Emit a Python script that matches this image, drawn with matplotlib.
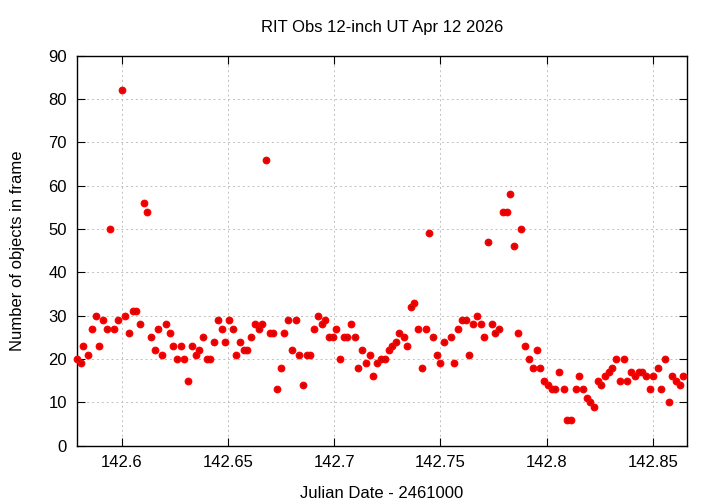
import matplotlib
matplotlib.use('Agg')
import matplotlib.pyplot as plt

plt.rcParams['font.family'] = ['Liberation Sans', 'DejaVu Sans']

# Julian date minus 2461000, and object counts per frame
jd = [
    142.5787, 142.5806, 142.5818, 142.5841, 142.5857, 142.5876, 142.5893, 142.5911,
    142.5928, 142.5945, 142.5962, 142.5981, 142.5999, 142.6016, 142.6033, 142.6050,
    142.6067, 142.6085, 142.6102, 142.6118, 142.6137, 142.6155, 142.6171, 142.6190,
    142.6207, 142.6225, 142.6242, 142.6259, 142.6276, 142.6293, 142.6312, 142.6330,
    142.6347, 142.6364, 142.6381, 142.6399, 142.6416, 142.6433, 142.6451, 142.6469,
    142.6486, 142.6504, 142.6521, 142.6538, 142.6556, 142.6573, 142.6590, 142.6607,
    142.6625, 142.6644, 142.6661, 142.6678, 142.6695, 142.6712, 142.6730, 142.6747,
    142.6764, 142.6782, 142.6799, 142.6818, 142.6835, 142.6852, 142.6870, 142.6887,
    142.6905, 142.6923, 142.6940, 142.6957, 142.6975, 142.6992, 142.7009, 142.7026,
    142.7044, 142.7061, 142.7080, 142.7097, 142.7114, 142.7131, 142.7149, 142.7166,
    142.7183, 142.7202, 142.7219, 142.7237, 142.7256, 142.7273, 142.7290, 142.7307,
    142.7326, 142.7343, 142.7359, 142.7376, 142.7395, 142.7412, 142.7430, 142.7445,
    142.7464, 142.7482, 142.7499, 142.7516, 142.7549, 142.7566, 142.7583, 142.7601,
    142.7618, 142.7635, 142.7654, 142.7671, 142.7689, 142.7706, 142.7723, 142.7742,
    142.7759, 142.7776, 142.7794, 142.7811, 142.7828, 142.7846, 142.7863, 142.7880,
    142.7897, 142.7915, 142.7936, 142.7954, 142.7971, 142.7988, 142.8006, 142.8023,
    142.8040, 142.8057, 142.8081, 142.8098, 142.8115, 142.8136, 142.8153, 142.8170,
    142.8188, 142.8205, 142.8222, 142.8240, 142.8258, 142.8275, 142.8293, 142.8310,
    142.8327, 142.8345, 142.8362, 142.8379, 142.8398, 142.8415, 142.8433, 142.8450,
    142.8467, 142.8486, 142.8503, 142.8522, 142.8539, 142.8557, 142.8574, 142.8591,
    142.8608, 142.8626, 142.8643,
]
counts = [
    20, 19, 23, 21, 27, 30, 23, 29,
    27, 50, 27, 29, 82, 30, 26, 31,
    31, 28, 56, 54, 25, 22, 27, 21,
    28, 26, 23, 20, 23, 20, 15, 23,
    21, 22, 25, 20, 20, 24, 29, 27,
    24, 29, 27, 21, 24, 22, 22, 25,
    28, 27, 28, 66, 26, 26, 13, 18,
    26, 29, 22, 29, 21, 14, 21, 21,
    27, 30, 28, 29, 25, 25, 27, 20,
    25, 25, 28, 25, 18, 22, 19, 21,
    16, 19, 20, 20, 22, 23, 24, 26,
    25, 23, 32, 33, 27, 18, 27, 49,
    25, 21, 19, 24, 25, 19, 27, 29,
    29, 21, 28, 30, 28, 25, 47, 28,
    26, 27, 54, 54, 58, 46, 26, 50,
    23, 20, 18, 22, 18, 15, 14, 13,
    13, 17, 13, 6, 6, 13, 16, 13,
    11, 10, 9, 15, 14, 16, 17, 18,
    20, 15, 20, 15, 17, 16, 17, 17,
    16, 13, 16, 18, 13, 20, 10, 16,
    15, 14, 16,
]

x_ticks = [142.6, 142.65, 142.7, 142.75, 142.8, 142.85]
x_tick_labels = ['142.6', '142.65', '142.7', '142.75', '142.8', '142.85']
y_ticks = list(range(0, 91, 10))

fig = plt.figure(figsize=(7.2, 5.04), dpi=100)
ax = fig.add_axes([0.1065, 0.1159, 0.848, 0.7738])

ax.plot(jd, counts, linestyle='none', marker='o', markersize=4.6,
        markerfacecolor='#ff0000', markeredgecolor='#ff0000', clip_on=False,
        zorder=3)
ax.plot(jd, counts, linestyle='none', marker='x', markersize=2.2,
        markeredgecolor='#c00000', markeredgewidth=0.6, clip_on=False, zorder=4)

ax.set_xlim(142.5787, 142.8662)
ax.set_ylim(0, 90)
ax.set_xticks(x_ticks)
ax.set_xticklabels(x_tick_labels)
ax.set_yticks(y_ticks)

ax.grid(True, color='#c0c0c0', linestyle=(0, (2, 3)), linewidth=0.7)
ax.set_axisbelow(True)
ax.tick_params(direction='in', length=6, width=0.8, top=True, right=True,
               labelsize=12, pad=7)
for s in ax.spines.values():
    s.set_linewidth(1.0)

ax.set_xlabel('Julian Date - 2461000', fontsize=12, labelpad=11)
ax.set_ylabel('Number of objects in frame', fontsize=12, labelpad=17)
ax.set_title('RIT Obs 12-inch UT Apr 12 2026', fontsize=12, pad=17)

fig.savefig('out.png', dpi=100, facecolor='white')
